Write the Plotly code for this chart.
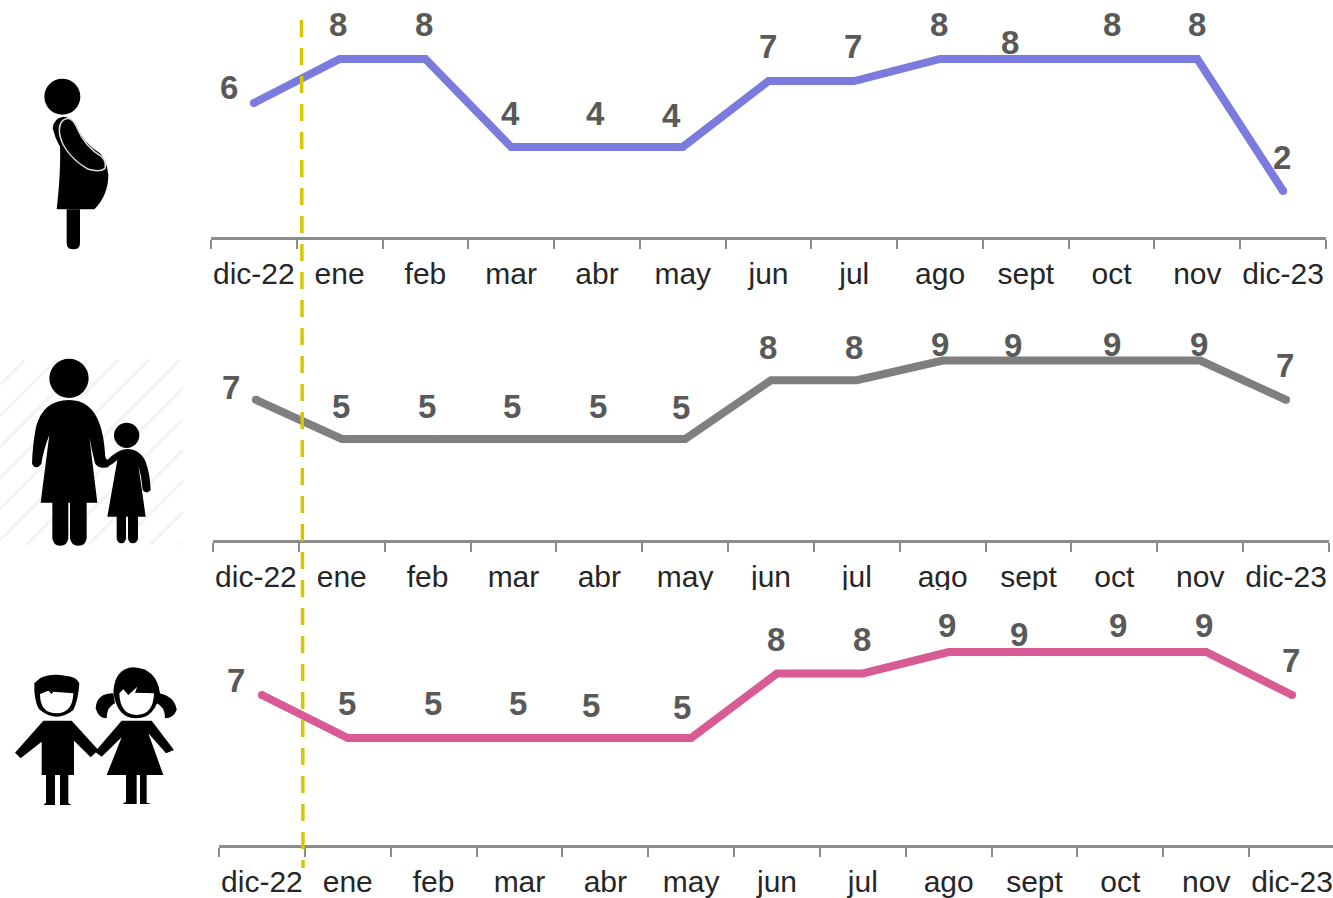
import re

import plotly.graph_objects as go

W, H = 1333, 898

MONTHS = ["dic-22", "ene", "feb", "mar", "abr", "may", "jun", "jul", "ago", "sept", "oct", "nov", "dic-23"]

embarazadas = [6, 8, 8, 4, 4, 4, 7, 7, 8, 8, 8, 8, 2]
madres = [7, 5, 5, 5, 5, 5, 8, 8, 9, 9, 9, 9, 7]
ninos = [7, 5, 5, 5, 5, 5, 8, 8, 9, 9, 9, 9, 7]

# desplazamiento manual de cada etiqueta respecto a su punto (px)
shift_x_1 = [-25, -2, -1, -1, -1, -11, -1, -1, -1, -16, 0, 0, -1]
shift_y_1 = [16, 35, 35, 34, 34, 32, 35, 35, 35, 17, 35, 35, 34]
shift_x_2 = [-25, -1, -1, -1, -1, -4, -3, -3, -3, -16, -2, -1, -1]
shift_y_2 = [12, 32, 32, 32, 32, 31, 33, 33, 16, 15, 16, 16, 34]
shift_x_3 = [-26, -1, -1, -1, -14, -9, -1, -1, -2, -16, -2, -2, -1]
shift_y_3 = [15, 35, 35, 35, 33, 31, 34, 34, 27, 18, 27, 27, 35]

# x izq/der del eje, y del eje, y del cero, px por unidad, color
PANELS = [
    (embarazadas, shift_x_1, shift_y_1, 211, 1326, 237, 235, 22.0, "#7B7BDD"),
    (madres, shift_x_2, shift_y_2, 213, 1329, 540, 537, 19.6, "#7F7F7F"),
    (ninos, shift_x_3, shift_y_3, 219, 1335, 845, 845.5, 21.5, "#D85B96"),
]
TOPS = [0, 305, 610]


def px(x):
    return x / W


def py(y):
    return 1 - y / H


def icon_path(d, ox, oy):
    # traza dibujada sobre un recorte 3x: pasar a coordenadas de papel
    def conv(m):
        x = float(m.group(1)) / 3 + ox
        y = float(m.group(2)) / 3 + oy
        return f"{px(x):.5f},{py(y):.5f}"

    return re.sub(r"(\d+(?:\.\d+)?),(\d+(?:\.\d+)?)", conv, d)


def fill_shape(d, ox, oy, color="black"):
    return dict(type="path", xref="paper", yref="paper", path=icon_path(d, ox, oy),
                fillcolor=color, line=dict(width=0), layer="above")


def circle(cx, cy, r, ox, oy):
    return dict(type="circle", xref="paper", yref="paper",
                x0=px(cx / 3 + ox - r / 3), x1=px(cx / 3 + ox + r / 3),
                y0=py(cy / 3 + oy + r / 3), y1=py(cy / 3 + oy - r / 3),
                fillcolor="black", line=dict(width=0), layer="above")


shapes = []

# rayas de fondo detrás de la madre
box = (0, 360, 183, 545)
for c in range(385, 740, 31):
    x0 = max(box[0], c - box[3])
    x1 = min(box[2], c - box[1])
    if x1 > x0:
        shapes.append(dict(type="line", xref="paper", yref="paper",
                           x0=px(x0), y0=py(c - x0), x1=px(x1), y1=py(c - x1),
                           line=dict(color="#F3F3F3", width=3), layer="below"))

# embarazada
shapes.append(circle(187, 110, 54, 0, 60))
shapes.append(fill_shape("M 190,170 Q 160,175 158,205 Q 165,235 180,260 Q 183,330 170,448 L 283,448 "
                         "Q 325,405 325,345 Q 320,300 300,280 Q 250,250 225,190 Q 210,170 190,170 Z", 0, 60))
shapes.append(fill_shape("M 200,448 L 200,548 Q 200,568 220,568 Q 240,568 240,548 L 240,448 Z", 0, 60))
shapes.append(dict(type="path", xref="paper", yref="paper",
                   path=icon_path("M 178,210 Q 178,178 205,175 Q 220,178 232,205 Q 255,260 305,290 "
                                  "Q 320,305 315,325 Q 300,338 265,328 Q 215,300 190,255 Q 178,230 178,210 Z", 0, 60),
                   line=dict(color="#DDDDDD", width=1.5), layer="above"))

# madre e hija
shapes.append(circle(207, 85, 59, 0, 350))
shapes.append(fill_shape("M 207,150 Q 130,150 108,230 Q 97,290 96,342 Q 108,362 124,342 Q 130,300 148,255 "
                         "L 122,458 L 157,458 L 157,565 Q 160,587 180,587 Q 203,587 205,565 L 205,458 L 210,458 "
                         "L 210,565 Q 213,587 235,587 Q 258,587 260,565 L 260,458 L 292,458 L 268,260 "
                         "Q 275,300 285,340 Q 295,358 325,352 L 325,330 Q 315,330 315,310 Q 312,260 300,225 "
                         "Q 275,150 207,150 Z", 0, 350))
shapes.append(circle(380, 256, 38, 0, 350))
shapes.append(fill_shape("M 380,297 Q 350,300 320,332 L 320,352 Q 335,345 352,330 L 322,500 L 350,500 L 350,565 "
                         "Q 352,580 364,580 Q 376,580 378,565 L 378,500 L 384,500 L 384,565 Q 386,580 398,580 "
                         "Q 412,580 414,565 L 414,500 L 437,500 L 415,345 Q 425,380 428,420 Q 440,435 452,420 "
                         "Q 450,370 437,335 Q 420,297 380,297 Z", 0, 350))

# niño y niña
shapes.append(fill_shape("M 103,100 L 103,125 Q 108,170 120,180 Q 170,220 220,180 Q 235,150 238,100 "
                         "Q 230,80 200,78 Q 150,68 120,85 Z", 0, 650))
shapes.append(fill_shape("M 120,132 Q 120,190 170,190 Q 218,190 220,130 L 160,125 L 155,132 L 145,122 Z", 0, 650, "white"))
shapes.append(fill_shape("M 130,212 L 215,212 L 295,300 L 272,322 L 222,272 L 222,375 L 205,375 L 205,460 L 215,465 "
                         "L 180,465 L 180,375 L 165,375 L 165,465 L 130,465 L 138,458 L 138,375 L 125,375 L 125,275 "
                         "L 62,325 L 45,308 Z", 0, 650))
shapes.append(fill_shape("M 340,125 Q 345,55 400,52 Q 470,55 480,130 Q 465,205 410,205 Q 350,205 340,125 Z", 0, 650))
shapes.append(fill_shape("M 340,130 Q 290,130 287,175 Q 295,205 320,205 Q 320,170 345,160 Z", 0, 650))
shapes.append(fill_shape("M 478,130 Q 525,140 530,180 Q 520,205 495,205 Q 495,170 470,160 Z", 0, 650))
shapes.append(fill_shape("M 358,130 L 370,118 L 385,135 L 412,110 L 405,128 L 462,130 Q 460,195 410,195 "
                         "Q 360,195 358,130 Z", 0, 650, "white"))
shapes.append(fill_shape("M 365,212 L 455,212 L 522,300 L 498,310 L 445,250 L 490,375 L 440,375 L 440,458 L 455,462 "
                         "L 420,462 L 420,375 L 410,375 L 410,462 L 368,462 L 378,455 L 378,375 L 320,375 L 365,262 "
                         "L 305,320 L 285,305 Z", 0, 650))

# recorte inferior de las etiquetas del panel central
shapes.append(dict(type="rect", xref="paper", yref="paper", x0=px(200), x1=1, y0=py(608), y1=py(590),
                   fillcolor="white", line=dict(width=0), layer="above"))

# línea punteada amarilla
shapes.append(dict(type="line", xref="paper", yref="paper", x0=px(301.5), y0=py(20), x1=px(303), y1=py(868),
                   line=dict(color="#D6C800", width=3.5, dash="17px,11px"), layer="above"))

fig = go.Figure()
layout = {}
annotations = []

for i, (vals, sx, sy, left, right, base, zero, ppu, color) in enumerate(PANELS):
    n = "" if i == 0 else str(i + 1)
    step = (right - left) / len(MONTHS)
    # remates redondos solo en los extremos
    end_dots = [8] + [0] * (len(MONTHS) - 2) + [8]
    fig.add_trace(go.Scatter(
        x=MONTHS, y=vals, mode="lines+markers", xaxis=f"x{n}", yaxis=f"y{n}",
        line=dict(color=color, width=8),
        marker=dict(color=color, size=end_dots, opacity=1, line=dict(width=0, color=color)),
        cliponaxis=False, showlegend=False, hoverinfo="skip",
    ))
    end = min(right, W)
    layout[f"xaxis{n}"] = dict(
        anchor=f"y{n}", domain=[px(left), px(end)], type="category",
        categoryorder="array", categoryarray=MONTHS,
        range=[-0.5, -0.5 + (end - left) / step],
        tickmode="array", tickvals=MONTHS, ticktext=MONTHS,
        tickson="boundaries", ticks="outside", ticklen=9, tickwidth=2, tickcolor="#8C8C8C",
        showline=True, linecolor="#8C8C8C", linewidth=2.5, showgrid=False, zeroline=False,
        tickangle=0, ticklabelstandoff=8,
        tickfont=dict(family="Liberation Sans", size=30, color="#262626"),
    )
    top = TOPS[i]
    layout[f"yaxis{n}"] = dict(
        anchor=f"x{n}", domain=[py(base), py(top)],
        range=[(zero - base) / ppu, (zero - top) / ppu],
        visible=False,
    )
    for m, v, dx, dy in zip(MONTHS, vals, sx, sy):
        annotations.append(dict(
            x=m, y=v, xref=f"x{n}", yref=f"y{n}", text=str(v), showarrow=False,
            xshift=dx, yshift=dy, xanchor="center", yanchor="middle",
            font=dict(family="Liberation Sans", size=33, color="#595959", weight="bold"),
        ))

fig.update_layout(
    width=W, height=H, autosize=False,
    margin=dict(l=0, r=0, t=0, b=0),
    paper_bgcolor="white", plot_bgcolor="rgba(0,0,0,0)",
    shapes=shapes, annotations=annotations,
    **layout,
)

fig.write_html("out.html", config=dict(displayModeBar=False), post_script="document.body.style.margin='0';")
